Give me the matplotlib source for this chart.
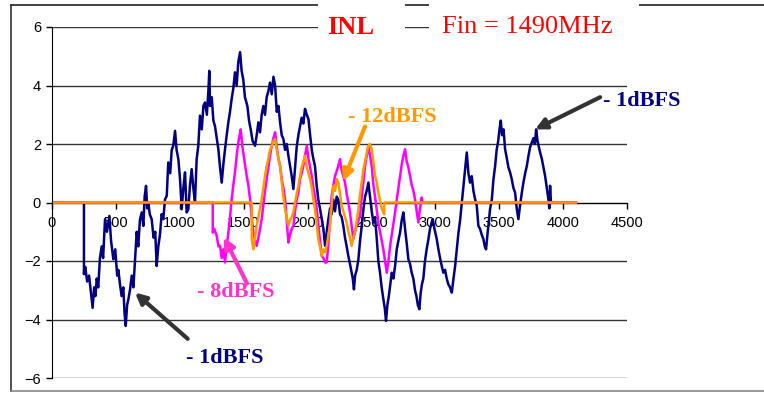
import matplotlib
matplotlib.use('Agg')
from matplotlib import pyplot as plt
from matplotlib.lines import Line2D
from matplotlib.patches import Rectangle

plt.rcParams['font.family'] = ['Liberation Sans', 'DejaVu Sans']

# -1dBFS (navy)
x_1db = [0, 250, 250, 260, 275, 290, 305, 318, 330, 340, 350, 362, 375, 389, 400, 415, 430, 449, 462, 480,
         495, 510, 519, 532, 545, 558, 568, 577, 588, 598, 610, 624, 637, 650, 663, 675, 688, 702, 715, 725,
         736, 745, 754, 765, 780, 795, 808, 819, 832, 845, 858, 871, 884, 898, 910, 925, 937, 949, 963, 975,
         989, 1002, 1015, 1028, 1041, 1054, 1067, 1080, 1093, 1106, 1119, 1132, 1145, 1158, 1172, 1185, 1198,
         1212, 1225, 1231, 1237, 1250, 1263, 1276, 1289, 1302, 1315, 1328, 1341, 1354, 1367, 1380, 1393, 1406,
         1419, 1432, 1445, 1458, 1472, 1484, 1497, 1510, 1529, 1542, 1555, 1570, 1589, 1602, 1615, 1628, 1641,
         1654, 1667, 1680, 1693, 1706, 1720, 1733, 1746, 1759, 1772, 1785, 1798, 1811, 1824, 1837, 1850, 1863,
         1876, 1889, 1902, 1915, 1928, 1941, 1954, 1967, 1980, 1994, 2007, 2020, 2033, 2045, 2058, 2071, 2084,
         2097, 2111, 2124, 2137, 2150, 2163, 2176, 2189, 2202, 2215, 2228, 2241, 2254, 2267, 2280, 2293, 2306,
         2319, 2332, 2345, 2354, 2363, 2372, 2385, 2398, 2411, 2424, 2437, 2450, 2463, 2476, 2489, 2502, 2515,
         2528, 2541, 2554, 2567, 2580, 2593, 2604, 2614, 2625, 2636, 2646, 2659, 2672, 2685, 2698, 2711, 2724,
         2737, 2750, 2763, 2776, 2789, 2802, 2815, 2828, 2841, 2852, 2863, 2875, 2885, 2895, 2906, 2919, 2932,
         2946, 2958, 2970, 2980, 2993, 3011, 3024, 3037, 3050, 3063, 3076, 3089, 3102, 3115, 3129, 3142, 3155,
         3168, 3181, 3194, 3205, 3215, 3228, 3237, 3246, 3259, 3272, 3285, 3298, 3311, 3324, 3337, 3350, 3363,
         3376, 3387, 3397, 3410, 3420, 3428, 3442, 3455, 3468, 3480, 3492, 3502, 3512, 3522, 3534, 3546, 3560,
         3572, 3585, 3598, 3611, 3624, 3637, 3650, 3663, 3677, 3690, 3703, 3716, 3729, 3742, 3755, 3768, 3779,
         3789, 3800, 3810, 3820, 3833, 3846, 3859, 3872, 3885, 3892, 3898, 3905, 4100]
y_1db = [0, 0, -2.45, -2.2, -2.7, -2.5, -3.1, -3.6, -2.9, -3.2, -2.6, -2.9, -1.9, -1.5, -1.9, -0.57, -1.0, -0.46, -1.3, -1.94,
         -1.6, -2.5, -2.3, -2.8, -3.2, -2.9, -3.8, -4.22, -3.5, -3.3, -3.0, -2.5, -2.9, -1.94, -1.0, -1.5, -0.6, -0.34, -0.8, 0.2,
         0.57, -0.2, 0.0, -0.4, -0.57, -1.2, -1.0, -2.17, -1.5, -1.1, -0.4, -0.57, 0.1, 0.23, 1.37, 1.0, 1.8, 1.94, 2.45, 1.8,
         1.48, 0.8, -0.23, 0.5, 1.03, -0.34, -0.23, 0.6, 1.14, 0.5, 0.0, 1.48, 1.94, 2.97, 2.5, 3.3, 3.42,
         3.0, 3.9, 4.5, 3.3, 3.6, 2.8, 2.6, 2.2, 1.82, 1.2, 0.68, 1.3, 1.82, 2.3, 2.74, 3.1, 3.54,
         3.9, 4.45, 4.0, 4.8, 5.14, 4.5, 4.2, 3.6, 3.3, 2.8, 2.5, 2.1, 1.94, 2.3, 2.74, 2.4, 3.0,
         3.3, 3.0, 3.6, 3.8, 4.1, 3.7, 4.3, 4.0, 3.1, 3.3, 2.74, 2.3, 2.17, 1.8, 2.0, 1.6, 1.25,
         0.9, 0.46, 1.2, 1.9, 2.3, 2.6, 2.9, 2.7, 3.2, 3.0, 2.85, 2.3, 1.8, 1.5, 1.25, 0.6, 0.1,
         -0.2, -0.57, -0.9, -1.48, -1.0, -0.57, -0.2, -0.4, 0.1, -0.3, 0.2, 0.1, -0.4, -0.5, -0.8, -1.2, -1.5,
         -1.83, -2.1, -2.4, -2.6, -2.97, -2.5, -2.3, -1.94, -1.3, -0.8, -0.23, 0.2, 0.4, 0.68, 0.2, -0.3, -0.68,
         -0.5, -1.2, -2.0, -2.4, -2.9, -3.3, -3.6, -4.05, -3.5, -3.2, -2.85, -2.4, -2.6, -2.17, -1.6, -1.3, -1.03,
         -0.6, -0.34, -0.9, -1.4, -1.94, -2.1, -2.4, -2.6, -3.0, -3.2, -3.5, -3.65, -3.1, -2.8, -2.6, -2.0, -1.6,
         -1.25, -0.9, -0.7, -0.57, -0.9, -1.25, -1.6, -1.9, -2.17, -2.4, -2.3, -2.6, -2.8, -2.9, -3.08, -2.6, -2.17,
         -1.6, -1.03, -0.6, -0.1, 0.34, 0.9, 1.3, 1.71, 1.0, 0.68, 0.9, 0.4, 0.11, -0.1, -0.8, -0.9, -1.1,
         -1.25, -1.5, -1.6, -1.0, -0.6, -0.23, 0.1, 0.8, 1.25, 1.8, 2.1, 2.5, 2.8, 2.3, 2.5, 1.82, 1.5,
         1.2, 1.03, 0.8, 0.5, 0.34, -0.2, -0.57, -0.1, 0.34, 0.7, 1.0, 1.25, 1.6, 1.9, 2.05, 2.2, 2.0,
         2.5, 2.1, 1.9, 1.71, 1.5, 1.2, 0.91, 0.5, 0.11, -0.2, 0.57, 0, 0]

# -8dBFS (magenta)
x_8db = [0, 1258, 1258, 1270, 1289, 1302, 1315, 1328, 1341, 1354, 1367, 1380, 1393, 1406, 1419, 1432, 1445, 1458,
         1468, 1477, 1490, 1500, 1511, 1524, 1537, 1550, 1563, 1576, 1589, 1602, 1615, 1628, 1641, 1654, 1667,
         1680, 1693, 1706, 1720, 1733, 1746, 1759, 1772, 1785, 1798, 1811, 1824, 1837, 1850, 1863, 1876, 1889,
         1902, 1915, 1928, 1941, 1954, 1967, 1980, 1994, 2007, 2020, 2033, 2046, 2059, 2072, 2085, 2098, 2111,
         2124, 2137, 2150, 2163, 2176, 2189, 2202, 2215, 2233, 2254, 2267, 2280, 2293, 2306, 2319, 2332, 2345,
         2358, 2371, 2385, 2398, 2411, 2424, 2437, 2450, 2463, 2476, 2489, 2502, 2515, 2528, 2541, 2554, 2567,
         2580, 2593, 2606, 2620, 2633, 2646, 2659, 2672, 2685, 2698, 2711, 2724, 2737, 2750, 2763, 2776, 2789,
         2802, 2815, 2828, 2841, 2854, 2867, 2880, 2893, 2900, 4100]
y_8db = [0, 0, -1.03, -0.9, -1.14, -1.5, -1.48, -1.9, -1.6, -2.05, -1.5, -1.03, -0.5, 0.11, 0.6, 1.03, 1.6, 2.05,
         2.3, 2.5, 1.9, 1.6, 1.25, 0.9, 0.57, 0.11, -0.5, -1.03, -1.3, -1.48, -1.2, -0.9, -0.57, -0.1, 0.4,
         0.8, 1.2, 1.6, 1.94, 2.2, 2.4, 1.9, 1.5, 1.25, 0.8, 0.5, 0.11, -0.6, -1.37, -1.1, -0.9, -0.8,
         -0.3, 0.1, 0.34, 0.8, 1.0, 1.25, 1.6, 1.94, 1.5, 1.2, 0.91, 0.5, 0.2, -0.23, -0.8, -1.3, -1.83,
         -1.9, -2.05, -2.05, -1.4, -0.6, 0.23, 0.6, 0.9, 1.14, 1.48, 1.1, 0.9, 0.68, 0.3, 0.0, -0.34, -0.8,
         -1.25, -1.0, -0.8, -0.6, -0.46, 0.2, 0.7, 1.25, 1.6, 1.94, 1.6, 1.25, 0.6, 0.2, -0.23, -0.7, -1.0,
         -1.3, -1.6, -2.0, -2.4, -2.0, -1.48, -1.1, -0.7, -0.34, 0.1, 0.5, 0.91, 1.3, 1.6, 1.82, 1.4, 1.2,
         0.91, 0.6, 0.4, 0.11, -0.3, -0.68, -0.2, 0.17, 0, 0]

# -12dBFS (orange)
x_12db = [0, 1563, 1563, 1576, 1589, 1602, 1615, 1628, 1641, 1654, 1667, 1680, 1693, 1706, 1720, 1733, 1746, 1759,
          1772, 1785, 1798, 1811, 1824, 1837, 1850, 1863, 1876, 1889, 1902, 1915, 1928, 1941, 1954, 1967, 1980,
          1994, 2007, 2020, 2033, 2046, 2058, 2071, 2084, 2097, 2111, 2124, 2137, 2150, 2163, 2176, 2189, 2202,
          2215, 2228, 2241, 2254, 2267, 2280, 2293, 2306, 2319, 2332, 2345, 2358, 2371, 2385, 2398, 2411, 2424,
          2437, 2450, 2463, 2476, 2489, 2502, 2515, 2528, 2541, 2554, 2567, 2580, 2593, 2600, 2600, 4100]
y_12db = [0, 0, -1.25, -1.6, -1.2, -0.8, -0.5, -0.2, 0.11, 0.5, 0.9, 1.25, 1.5, 1.8, 1.94, 2.1, 2.17, 1.8,
          1.5, 1.25, 0.7, 0.2, -0.23, -0.5, -0.8, -0.6, -0.5, -0.34, 0.0, 0.3, 0.57, 0.9, 1.2, 1.4, 1.6,
          1.2, 1.0, 0.8, 0.5, 0.1, -0.23, -0.7, -1.25, -1.5, -1.83, -1.6, -1.7, -1.48, -1.1, -0.8, -0.1, 0.57,
          0.4, 0.8, 0.68, 0.3, -0.11, -0.3, -0.5, -0.68, -1.0, -1.2, -1.48, -1.2, -1.03, -0.6, -0.23, 0.3, 0.7,
          1.14, 1.4, 1.7, 1.94, 2.0, 1.82, 1.4, 0.91, 0.7, 0.34, 0.1, -0.2, -0.34, -0.4, 0, 0]

x_ticks = [0, 500, 1000, 1500, 2000, 2500, 3000, 3500, 4000, 4500]
y_ticks = [-6, -4, -2, 0, 2, 4, 6]

fig = plt.figure(figsize=(7.64, 4.0), dpi=100)
ax = fig.add_axes([52 / 764, 22 / 400, 575 / 764, 351 / 400])

ax.plot(x_1db, y_1db, color='#000080', lw=1.8)
ax.plot(x_8db, y_8db, color='#FF00FF', lw=1.8)
ax.plot(x_12db, y_12db, color='#FF9900', lw=1.8)

ax.set_xlim(0, 4500)
ax.set_ylim(-6, 6)
ax.set_xticks(x_ticks)
ax.set_yticks(y_ticks)
ax.yaxis.grid(True, color='#333333', lw=1.0)
ax.set_axisbelow(True)
for s in ['top', 'right']:
    ax.spines[s].set_visible(False)
ax.spines['bottom'].set_position(('data', 0))
ax.spines['bottom'].set_zorder(1)
ax.tick_params(axis='both', direction='out', length=4, width=1, labelsize=10.5, colors='black')
ax.tick_params(axis='x', pad=6)
ax.tick_params(axis='y', pad=4)

# annotations: arrows (tail -> head) and labels
serif = ['Liberation Serif', 'DejaVu Serif']
arrows = [((1062, -4.66), (650, -3.08), '#333333'),
          ((4290, 3.6), (3781, 2.5), '#333333'),
          ((1526, -2.77), (1346, -1.19), '#FF33CC'),
          ((2450, 2.6), (2278, 0.73), '#FF9900')]
for tail, head, c in arrows:
    ax.annotate('', xy=head, xytext=tail,
                arrowprops=dict(arrowstyle='-|>', lw=3, color=c, mutation_scale=16,
                                shrinkA=0, shrinkB=0), annotation_clip=False)

labels = [('- 1dBFS', 1355, -5.3, '#000080'),
          ('- 1dBFS', 4618, 3.47, '#000080'),
          ('- 8dBFS', 1440, -3.07, '#FF33CC'),
          ('- 12dBFS', 2661, 2.92, '#FF9900')]
for txt, lx, ly, c in labels:
    ax.text(lx, ly, txt, ha='center', va='center', fontsize=16, fontweight='bold',
            family=serif, color=c, clip_on=False)

# outer frame
fig.add_artist(Line2D([11 / 764, 11 / 764], [1 - 5 / 400, 1 - 391 / 400], color='#333333', lw=1.2))
fig.add_artist(Line2D([11 / 764, 1.0], [1 - 5 / 400, 1 - 5 / 400], color='#222222', lw=1.2))
fig.add_artist(Line2D([11 / 764, 1.0], [1 - 391 / 400, 1 - 391 / 400], color='#888888', lw=1.2))

# title boxes
fig.add_artist(Rectangle((318 / 764, 1 - 42 / 400), 87 / 764, 42 / 400, transform=fig.transFigure,
                         facecolor='white', edgecolor='none', zorder=5))
fig.add_artist(Rectangle((429 / 764, 1 - 42 / 400), 210 / 764, 42 / 400, transform=fig.transFigure,
                         facecolor='white', edgecolor='none', zorder=5))
fig.text(351 / 764, 1 - 27 / 400, 'INL', ha='center', va='center', fontsize=19, fontweight='bold',
         family=serif, color='#FF0000', zorder=6)
fig.text(527 / 764, 1 - 27 / 400, 'Fin = 1490MHz', ha='center', va='center', fontsize=19,
         family=serif, color='#FF0000', zorder=6)

fig.savefig('out.png', dpi=100)
